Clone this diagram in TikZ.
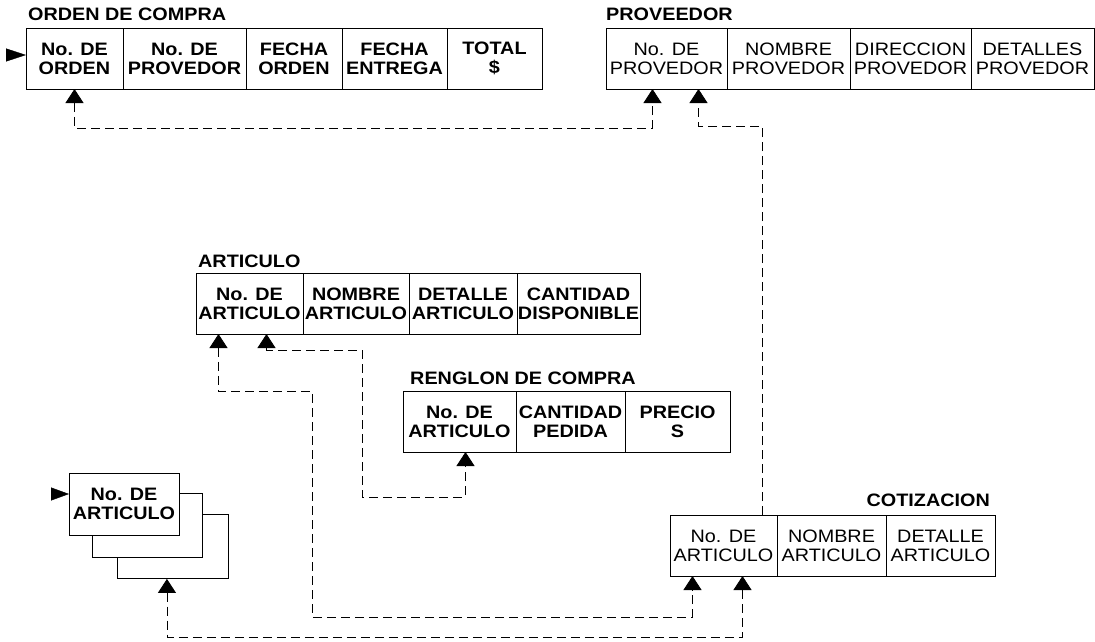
\documentclass[tikz,border=0pt]{standalone}
\usepackage{fontspec}
\setmainfont{Liberation Sans}[FakeStretch=1.1]
\usetikzlibrary{arrows.meta,positioning,calc}

\begin{document}
\begin{tikzpicture}[x=1pt, y=-1pt,
    cell/.style={draw, line width=0.9pt, inner sep=0pt, outer sep=0pt, minimum height=61pt, align=center, font=\fontsize{18}{19}\selectfont},
    bcell/.style={cell, font=\fontsize{18}{19}\selectfont\bfseries},
    title/.style={inner sep=0pt, font=\fontsize{18}{19}\selectfont\bfseries},
    link/.style={line width=0.8pt, dash pattern=on 9pt off 5pt},
    both/.style={arrows={Triangle[length=14pt,width=18pt]}-{Triangle[length=14pt,width=18pt]}},
    one/.style={arrows=-{Triangle[length=14pt,width=18pt]}}]

    \useasboundingbox (0,0) rectangle (1095,642);

    % orden de compra
    \node[title, anchor=base west] (octitle) at (28,21) {ORDEN DE COMPRA};
    \node[bcell, minimum width=97pt, anchor=north west] (oc1) at (26,28) {No. DE\\ORDEN};
    \node[bcell, minimum width=123pt, right=0pt of oc1] (oc2) {No. DE\\PROVEDOR};
    \node[bcell, minimum width=96pt, right=0pt of oc2] (oc3) {FECHA\\ORDEN};
    \node[bcell, minimum width=105pt, right=0pt of oc3] (oc4) {FECHA\\ENTREGA};
    \node[bcell, minimum width=95pt, right=0pt of oc4] (oc5) {TOTAL\\\$};

    % proveedor
    \node[title, anchor=base west] (pvtitle) at (606,21) {PROVEEDOR};
    \node[cell, minimum width=121pt, anchor=north west] (pv1) at (606,28) {No. DE\\PROVEDOR};
    \node[cell, minimum width=123pt, right=0pt of pv1] (pv2) {NOMBRE\\PROVEDOR};
    \node[cell, minimum width=121pt, right=0pt of pv2] (pv3) {DIRECCION\\PROVEDOR};
    \node[cell, minimum width=123pt, right=0pt of pv3] (pv4) {DETALLES\\PROVEDOR};

    % articulo
    \node[title, anchor=base west] (artitle) at (198,267) {ARTICULO};
    \node[bcell, minimum width=107pt, anchor=north west] (ar1) at (196,273) {No. DE\\ARTICULO};
    \node[bcell, minimum width=106pt, right=0pt of ar1] (ar2) {NOMBRE\\ARTICULO};
    \node[bcell, minimum width=108pt, right=0pt of ar2] (ar3) {DETALLE\\ARTICULO};
    \node[bcell, minimum width=123pt, right=0pt of ar3] (ar4) {CANTIDAD\\DISPONIBLE};

    % renglon de compra
    \node[title, anchor=base west] (rctitle) at (410,384) {RENGLON DE COMPRA};
    \node[bcell, minimum width=113pt, anchor=north west] (rc1) at (403,391) {No. DE\\ARTICULO};
    \node[bcell, minimum width=109pt, right=0pt of rc1] (rc2) {CANTIDAD\\PEDIDA};
    \node[bcell, minimum width=105pt, right=0pt of rc2] (rc3) {PRECIO\\S};

    % cotizacion
    \node[title, anchor=base east] (cttitle) at (990,506) {COTIZACION};
    \node[cell, minimum width=107pt, anchor=north west] (ct1) at (670,515) {No. DE\\ARTICULO};
    \node[cell, minimum width=109pt, right=0pt of ct1] (ct2) {NOMBRE\\ARTICULO};
    \node[cell, minimum width=109pt, right=0pt of ct2] (ct3) {DETALLE\\ARTICULO};

    % pila de articulos
    \node[draw, line width=0.9pt, minimum width=111pt, minimum height=64pt, anchor=north west] (ka3) at (117,514) {};
    \node[draw, line width=0.9pt, fill=white, minimum width=110pt, minimum height=64pt, anchor=north west] (ka2) at (92,493) {};
    \node[bcell, fill=white, minimum width=110pt, minimum height=62pt, anchor=north west] (ka1) at (69,473) {No. DE\\ARTICULO};

    % entradas
    \coordinate (ocin) at (6,55);
    \coordinate (kain) at (51,494);
    \draw[-{Triangle[length=20pt,width=13pt]}] (ocin) -- (ocin -| oc1.west);
    \draw[-{Triangle[length=18pt,width=13pt]}] (kain) -- (kain -| ka1.west);

    % relaciones
    \draw[link, both] (oc1.south) -- ++(0,39) -| ([xshift=-14pt]pv1.south);
    \draw[link, one] ([xshift=-15pt]ct1.north east) |- ($(pv1.south)+(32,37)$) -- ([xshift=32pt]pv1.south);
    \draw[link, both] ([xshift=-31pt]ar1.south) -- ++(0,57) -| (312,617) -| ([xshift=-31pt]ct1.south);
    \draw[link, both] ([xshift=17pt]ar1.south) -- ++(0,16) -| (362,497) -| ([xshift=6pt]rc1.south);
    \draw[link, both] ([xshift=-6pt]ka3.south) -- ++(0,58) -| ([xshift=19pt]ct1.south);

\end{tikzpicture}
\end{document}
